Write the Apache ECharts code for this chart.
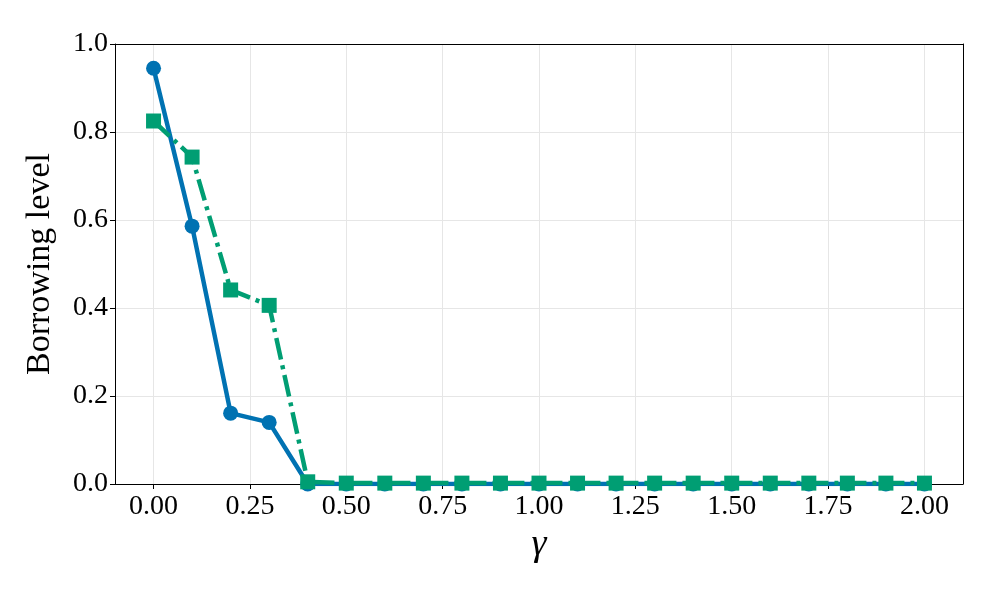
<!DOCTYPE html>
<html>
<head>
<meta charset="utf-8">
<script src="https://cdn.jsdelivr.net/npm/echarts@6/dist/echarts.min.js"></script>
<style>html,body{margin:0;padding:0;background:#fff;}#c{width:996px;height:590px;}</style>
</head>
<body>
<div id="c"></div>
<script>
const gammaValues = [0.0,0.1,0.2,0.3,0.4,0.5,0.6,0.7,0.8,0.9,1.0,1.1,1.2,1.3,1.4,1.5,1.6,1.7,1.8,1.9,2.0];
const seriesCircle = [0.945,0.586,0.161,0.140,0.0,0,0,0,0,0,0,0,0,0,0,0,0,0,0,0,0];
const seriesSquare = [0.825,0.743,0.441,0.406,0.005,0.002,0.002,0.002,0.002,0.002,0.002,0.002,0.002,0.002,0.002,0.002,0.002,0.002,0.002,0.002,0.002];
const xTicks = [0,0.25,0.5,0.75,1.0,1.25,1.5,1.75,2.0];
const yTicks = [0,0.2,0.4,0.6,0.8,1.0];

const font = "Liberation Serif";
const frameAxis = {show:true, axisLine:{show:true,onZero:false,lineStyle:{color:'#000',width:1}},
  axisTick:{show:false}, axisLabel:{show:false}, splitLine:{show:false}};
const chart = echarts.init(document.getElementById('c'), null, {renderer:'canvas'});
chart.setOption({
  animation:false,
  backgroundColor:'#fff',
  grid:{left:115,right:33,top:44,bottom:106,show:false},
  xAxis:[{
    type:'value', min:-0.1, max:2.1, position:'bottom',
    name:'γ', nameLocation:'middle', nameGap:40,
    nameTextStyle:{fontFamily:font,fontStyle:'italic',fontSize:38,color:'#000'},
    axisLine:{show:true,onZero:false,lineStyle:{color:'#000',width:1}},
    axisTick:{show:true,length:5,inside:false,lineStyle:{color:'#000',width:1},customValues:xTicks},
    axisLabel:{fontFamily:font,fontSize:28,color:'#000',margin:9,customValues:xTicks,formatter:v=>v.toFixed(2)},
    splitLine:{show:true,lineStyle:{color:'#e6e6e6',width:1}}
  }, Object.assign({type:'value', min:-0.1, max:2.1, position:'top'}, frameAxis)],
  yAxis:[{
    type:'value', min:0, max:1, interval:0.2, position:'left',
    name:'Borrowing level', nameLocation:'middle', nameGap:58,
    nameTextStyle:{fontFamily:font,fontSize:34,color:'#000'},
    axisLine:{show:true,onZero:false,lineStyle:{color:'#000',width:1}},
    axisTick:{show:true,length:5,inside:false,lineStyle:{color:'#000',width:1}},
    axisLabel:{fontFamily:font,fontSize:28,color:'#000',margin:7,formatter:v=>v.toFixed(1)},
    splitLine:{show:true,lineStyle:{color:'#e6e6e6',width:1}}
  }, Object.assign({type:'value', min:0, max:1, interval:0.2, position:'right'}, frameAxis)],
  series:[
    {type:'line', data:gammaValues.map((g,i)=>[g,seriesCircle[i]]),
     symbol:'circle', symbolSize:15, showAllSymbol:true,
     lineStyle:{color:'#0072B2',width:4.5}, itemStyle:{color:'#0072B2'}, z:2},
    {type:'line', data:gammaValues.map((g,i)=>[g,seriesSquare[i]]),
     symbol:'rect', symbolSize:15, showAllSymbol:true,
     lineStyle:{color:'#009E73',width:4.5,type:[22,6,4,6]}, itemStyle:{color:'#009E73'}, z:3}
  ]
});
</script>
</body>
</html>
